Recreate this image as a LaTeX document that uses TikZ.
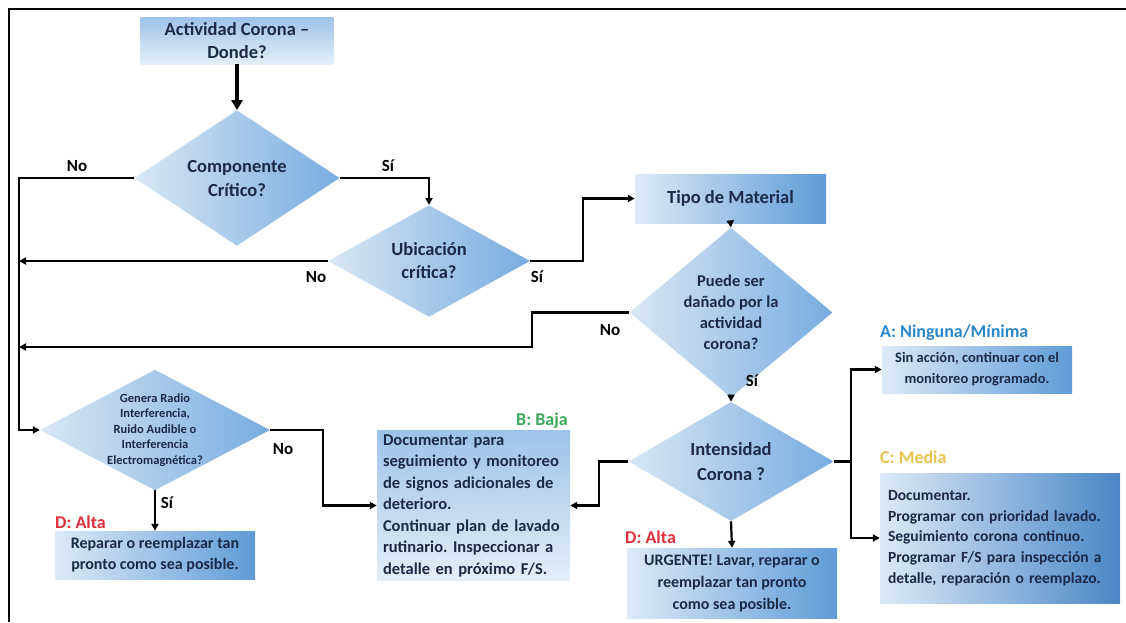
\documentclass[tikz,border=0pt]{standalone}
\usepackage{fontspec}
\setmainfont{Carlito}
\usetikzlibrary{shapes.geometric,arrows.meta,calc}
\definecolor{txt}{HTML}{1C2A48}
\definecolor{lb}{HTML}{DDEAF7}
\definecolor{db}{HTML}{5F9BD7}
\definecolor{cd}{HTML}{4A86C6}
\definecolor{dl}{HTML}{D9E7F5}
\definecolor{dd}{HTML}{78ACDF}
\definecolor{tb}{HTML}{9DC3E9}
\definecolor{bb}{HTML}{E4EEF8}
\definecolor{labA}{HTML}{2B87CC}
\definecolor{labB}{HTML}{3BAA5A}
\definecolor{labC}{HTML}{EBC24B}
\definecolor{labD}{HTML}{E0303A}
\frenchspacing
\begin{document}
\begin{tikzpicture}[x=1pt,y=-1pt,
  hbox/.style={rectangle, left color=lb, right color=db, draw=none, text=txt, align=center, inner sep=4pt},
  vbox/.style={rectangle, top color=tb, bottom color=bb, draw=none, text=txt, align=center, inner sep=4pt},
  dia/.style={diamond, left color=dl, right color=dd, draw=none, text=txt, align=center, inner sep=0pt},
  conn/.style={line width=2.2pt, -{Triangle[length=7pt,width=7pt]}},
  yn/.style={font=\bfseries\fontsize{17}{20}\selectfont, text=black, inner sep=0pt},
  lev/.style={font=\bfseries\fontsize{18}{21}\selectfont, inner sep=0pt}
]
\useasboundingbox (0,0) rectangle (1126,622);
\draw[line width=1.5pt] (9,622) -- (9,9) -- (1126,9);

% nodes
\node[vbox, minimum width=193pt, minimum height=47pt, font=\bfseries\fontsize{18.5}{23}\selectfont] (act) at (237,40.5) {Actividad Corona –\\Donde?};
\node[dia, minimum width=205pt, minimum height=112pt, font=\bfseries\fontsize{18.5}{24}\selectfont] (comp) at (237,178) {Componente\\Crítico?};
\node[dia, minimum width=202pt, minimum height=108pt, font=\bfseries\fontsize{18.5}{23}\selectfont] (ubi) at (429,261) {Ubicación\\crítica?};
\node[hbox, minimum width=191pt, minimum height=49pt, font=\bfseries\fontsize{18.5}{22}\selectfont] (tipo) at (730.5,198.5) {Tipo de Material};
\node[dia, minimum width=203pt, minimum height=115pt, font=\bfseries\fontsize{16.5}{21}\selectfont] (pue) at (731,312.5) {Puede ser\\dañado por la\\actividad\\corona?};
\node[dia, minimum width=205pt, minimum height=113pt, font=\bfseries\fontsize{18.5}{25}\selectfont] (int) at (731,461.5) {Intensidad\\Corona ?};
\node[dia, minimum width=230pt, minimum height=114pt, inner sep=-12pt, font=\bfseries\fontsize{12.5}{15.5}\selectfont] (gen) at (155,430) {Genera Radio\\Interferencia,\\Ruido Audible o\\Interferencia\\Electromagnética?};

\node[hbox, minimum width=190pt, minimum height=47pt, font=\bfseries\fontsize{14.5}{21}\selectfont] (boxA) at (977,369.5) {Sin acción, continuar con el\\monitoreo programado.};
\node[hbox, minimum width=240pt, minimum height=130pt, text width=224pt, align=left, right color=cd, font=\bfseries\fontsize{15.5}{20.7}\selectfont] (boxC) at (1000,538) {Documentar.\\Programar con prioridad lavado.\\Seguimiento corona continuo.\\Programar F/S para inspección a\\detalle, reparación o reemplazo.};
\node[vbox, minimum width=193pt, minimum height=145pt, text width=181pt, align=left, font=\bfseries\fontsize{16.5}{21.5}\selectfont] (boxB) at (473.5,505.5) {Documentar para\\seguimiento y monitoreo\\de signos adicionales de\\deterioro.\\Continuar plan de lavado\\rutinario. Inspeccionar a\\detalle en próximo F/S.};
\node[hbox, minimum width=210pt, minimum height=70pt, font=\bfseries\fontsize{16}{22}\selectfont] (boxU) at (732,583) {URGENTE! Lavar, reparar o\\reemplazar tan pronto\\como sea posible.};
\node[hbox, minimum width=200pt, minimum height=48pt, font=\bfseries\fontsize{16}{21}\selectfont] (boxR) at (155,555) {Reparar o reemplazar tan\\pronto como sea posible.};

% level labels
\node[lev, text=labA, anchor=west] (labelA) at (880,333) {A: Ninguna/Mínima};
\node[lev, text=labC, anchor=west] (labelC) at (880,457) {C: Media};
\node[lev, text=labB, anchor=east] (labelB) at (568,421) {B: Baja};
\node[lev, text=labD, anchor=west] (labelD1) at (625,537) {D: Alta};
\node[lev, text=labD, anchor=west] (labelD2) at (55,522) {D: Alta};

% yes/no labels
\node[yn] (no1) at (77,166) {No};
\node[yn] (si1) at (388,166) {Sí};
\node[yn] (no2) at (316,277) {No};
\node[yn] (si2) at (537,277) {Sí};
\node[yn] (no3) at (610,330) {No};
\node[yn] (si3) at (752,381) {Sí};
\node[yn] (no4) at (283,449) {No};
\node[yn] (si4) at (167,503) {Sí};

% bus coordinates
\coordinate (busx) at (19,0);
\coordinate (nol3) at (19,347);

% connectors
\draw[line width=3.5pt, -{Triangle[length=10pt,width=11pt]}] (act.south) -- (comp.north);
\draw[conn] (comp.west) -| (busx |- gen.west) -- (gen.west);
\draw[conn] (comp.east) -| (ubi.north);
\draw[conn] (ubi.west) -- (busx |- ubi.west);
\draw[conn] (ubi.east) -- ++(53,0) |- (tipo.west);
\draw[conn] (tipo.south) -- (pue.north);
\draw[conn] (pue.west) -- ++(-97,0) |- (nol3);
\draw[conn] (pue.south) -- (int.north);
\draw[conn] (int.east) -- ++(17,0) |- (boxA.west);
\draw[conn] (int.east) -- ++(17,0) |- (boxC.west);
\draw[conn] (int.west) -- ++(-29,0) |- (boxB.east);
\draw[conn] (int.south) -- (boxU.north);
\draw[conn] (gen.east) -- ++(53,0) |- (boxB.west);
\draw[conn] (gen.south) -- (boxR.north);
\end{tikzpicture}
\end{document}
